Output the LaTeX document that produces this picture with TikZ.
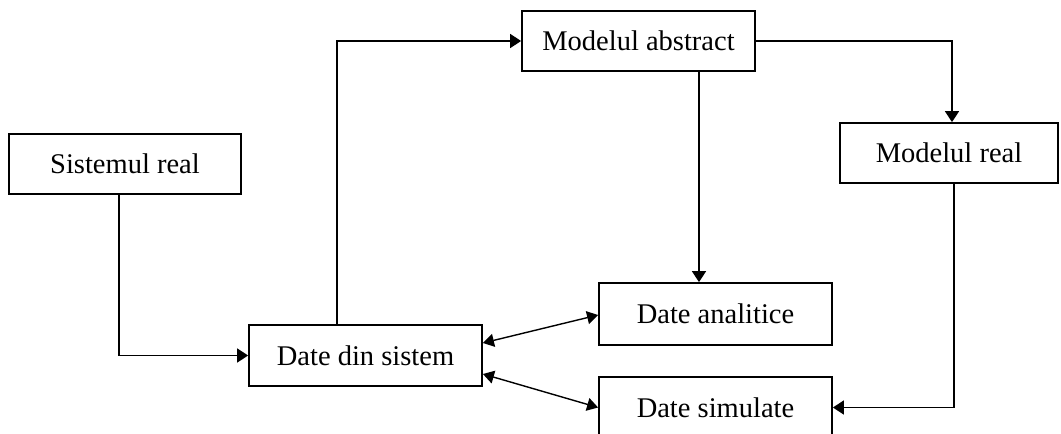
\documentclass[tikz,border=0pt]{standalone}
\usepackage{fontspec}
\setmainfont{Liberation Serif}
\usetikzlibrary{arrows.meta}
\begin{document}
\begin{tikzpicture}[x=1pt,y=-1pt,
  box/.style={draw,line width=1.8pt,inner sep=0pt,minimum width=233pt,minimum height=61pt,
    font=\fontsize{28.5}{32}\selectfont},
  link/.style={line width=1.8pt,-{Triangle[length=11pt,width=14pt]}},
  both/.style={line width=1.4pt,{Triangle[length=11pt,width=13pt]}-{Triangle[length=11pt,width=13pt]}}]
\useasboundingbox (0,0) rectangle (1061,434);
\clip (0,0) rectangle (1061,434);
% blocks of the modelling scheme
\node[box,minimum height=60pt] (abs) at (638.5,41) {Modelul abstract};
\node[box,minimum width=232pt,minimum height=60pt] (sist) at (125,164) {Sistemul real};
\node[box,minimum width=218pt,minimum height=60pt] (mreal) at (949,153) {Modelul real};
\node[box] (dsist) at (365.5,355.5) {Date din sistem};
\node[box,minimum height=62pt] (dan) at (715.5,314) {Date analitice};
\node[box] (dsim) at (715.5,407.5) {Date simulate};
% flows between the blocks
\draw[link] ([xshift=-6pt]sist.south) |- (dsist.west);
\draw[link] ([xshift=-28.5pt]dsist.north) |- (abs.west);
\draw[link] (abs.east) -| ([xshift=3pt]mreal.north);
\draw[link] ([xshift=-16.5pt]dan.north |- abs.south) -- ([xshift=-16.5pt]dan.north);
\draw[link] ([xshift=5pt]mreal.south) |- (dsim.east);
\draw[both] ([yshift=12.5pt]dsist.east) -- ([yshift=-1pt]dan.west);
\draw[both] ([yshift=-18.5pt]dsist.east) -- (dsim.west);
\end{tikzpicture}
\end{document}
